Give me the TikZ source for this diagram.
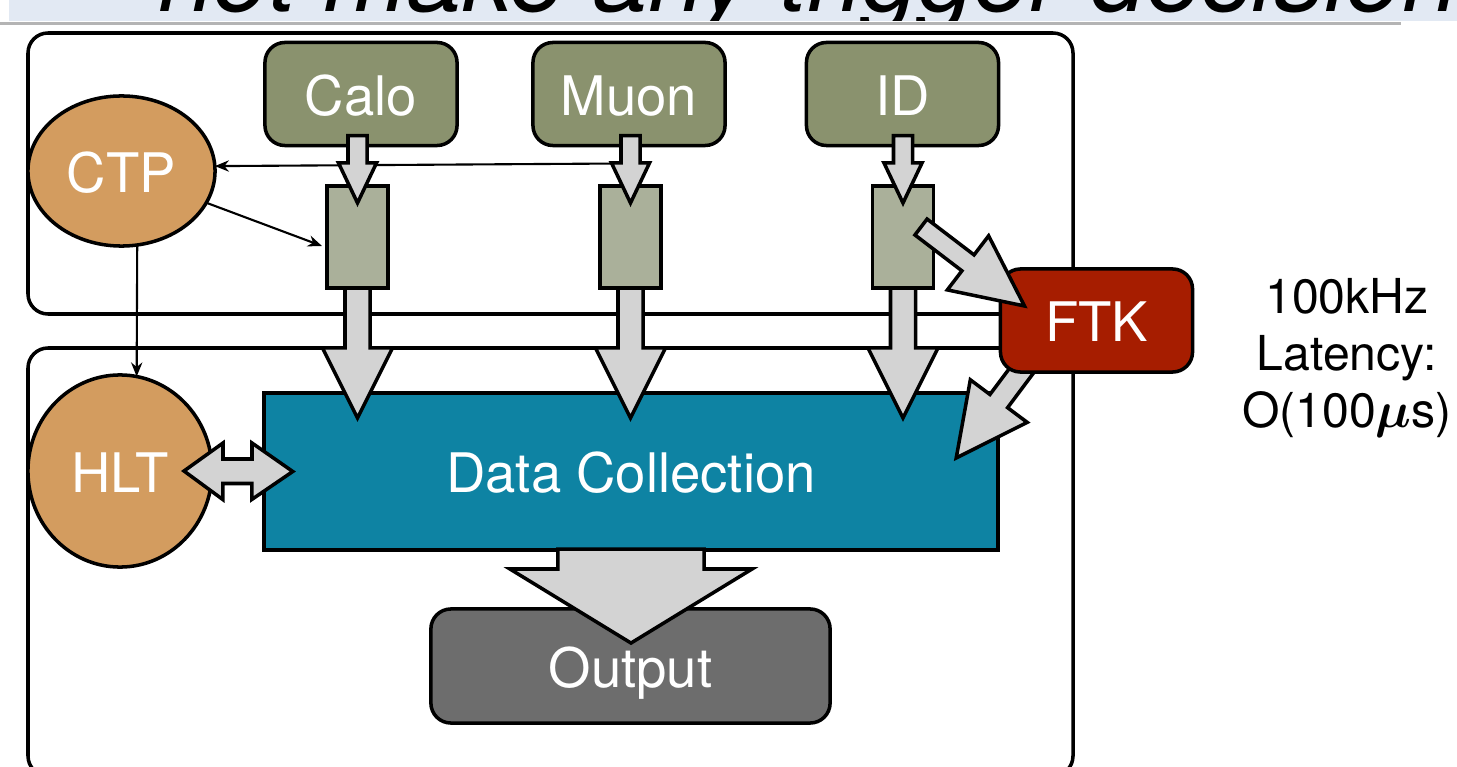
\documentclass[tikz,border=0pt]{standalone}
\usepackage{amsmath}
\usepackage{fontspec}
\setmainfont{TeX Gyre Heros}
\usetikzlibrary{shapes.geometric,arrows.meta,calc}
\definecolor{cBand}{HTML}{E2E9F3}
\definecolor{cLine}{HTML}{B4B4B4}
\definecolor{cSrc}{HTML}{8A926E}
\definecolor{cRd}{HTML}{AAB09A}
\definecolor{cArrow}{HTML}{D3D3D3}
\definecolor{cDC}{HTML}{0E83A3}
\definecolor{cOut}{HTML}{6D6D6D}
\definecolor{cFTK}{HTML}{A61D00}
\definecolor{cOval}{HTML}{D39C5F}
% #1 from, #2 to, #3 half shaft, #4 half head, #5 head length
\newcommand\fatarrow[5]{%
  \coordinate (fa-h) at ($(#2)!#5!(#1)$);
  \draw[fatstyle] ($(#1)!#3!90:(#2)$) -- ($(fa-h)!#3!90:(#2)$) -- ($(fa-h)!#4!90:(#2)$)
    -- (#2) -- ($(fa-h)!#4!-90:(#2)$) -- ($(fa-h)!#3!-90:(#2)$) -- ($(#1)!#3!-90:(#2)$) -- cycle;
}
\begin{document}
\begin{tikzpicture}[x=0.01cm,y=-0.01cm,
  every node/.style={inner sep=0pt, outer sep=0pt},
  lbl/.style={text=white, font=\fontsize{15.5}{18}\selectfont, text height=12pt, text depth=0pt},
  srcbox/.style={draw, line width=1pt, fill=cSrc, rounded corners=0.2cm, minimum width=1.92cm, minimum height=1.03cm, lbl},
  rdbox/.style={draw, line width=1pt, fill=cRd, minimum width=0.61cm, minimum height=1.02cm},
  oval/.style={draw, line width=1pt, fill=cOval, ellipse, lbl},
  frame/.style={draw, line width=1pt, rounded corners=0.2cm},
  thinarrow/.style={line width=0.6pt, -{Stealth[length=4pt,width=3.2pt]}},
  fatstyle/.style={draw, line width=1pt, fill=cArrow, line join=miter},
]
\useasboundingbox (0,0) rectangle (1457,767);

% slide title band
\fill[cBand] (9,0) rectangle (1457,21);
\begin{scope}
  \clip (9,0) rectangle (1457,21);
  \node[anchor=base west, font=\fontsize{28.5}{32}\selectfont\itshape] (title) at (158,12) {not make any trigger decisions};
\end{scope}
\draw[cLine, line width=0.8pt] (0,23.5) -- (1401,23.5);

% frames
\draw[frame] (28,33) rectangle (1073,314);
\draw[frame] (28,348) rectangle (1073,776);

% nodes
\node[oval, minimum width=1.87cm, minimum height=1.50cm] (ctp) at (121.5,171) {CTP};
\node[oval, minimum width=1.84cm, minimum height=1.92cm] (hlt) at (120,471) {HLT};
\node[srcbox] (calo) at (361,94) {Calo};
\node[srcbox] (muon) at (629,94) {Muon};
\node[srcbox] (id) at (902.5,94) {ID};
\node[rdbox] (rcalo) at (357.5,237) {};
\node[rdbox] (rmuon) at (630.5,237) {};
\node[rdbox] (rid) at (903,237) {};
\node[draw, line width=1pt, fill=cDC, minimum width=7.34cm, minimum height=1.57cm, lbl] (dc) at (631,471.5) {Data Collection};
\node[srcbox, fill=cOut, minimum width=3.99cm, minimum height=1.14cm] (out) at (630.5,666) {Output};

% thin connectors
\coordinate (tap) at (620,163.5);
\draw[thinarrow] (tap) -- (ctp.3);
\coordinate (ctpin) at ($(rcalo.west)+(-5,9)$);
\draw[thinarrow] (ctp) -- (ctpin);
\draw[thinarrow] (ctp.-78) -- (hlt.80);

% small arrows: detectors -> readout
\coordinate (s1) at ($(calo.south -| rcalo.north)+(0,-10)$);
\coordinate (e1) at ($(rcalo.north)+(0,17)$);
\fatarrow{s1}{e1}{0.095cm}{0.19cm}{0.40cm}
\coordinate (s2) at ($(muon.south -| rmuon.north)+(0,-10)$);
\coordinate (e2) at ($(rmuon.north)+(0,17)$);
\fatarrow{s2}{e2}{0.095cm}{0.19cm}{0.40cm}
\coordinate (s3) at ($(id.south -| rid.north)+(0,-10)$);
\coordinate (e3) at ($(rid.north)+(0,17)$);
\fatarrow{s3}{e3}{0.095cm}{0.19cm}{0.40cm}

% big arrows: readout -> data collection
\coordinate (b1) at ($(rcalo.south)+(0,130)$);
\fatarrow{rcalo.south}{b1}{0.125cm}{0.35cm}{0.70cm}
\coordinate (b2) at ($(rmuon.south)+(0,130)$);
\fatarrow{rmuon.south}{b2}{0.125cm}{0.35cm}{0.70cm}
\coordinate (b3) at ($(rid.south)+(0,130)$);
\fatarrow{rid.south}{b3}{0.125cm}{0.35cm}{0.70cm}

% data collection -> output
\coordinate (os) at ($(dc.south)+(0,-1)$);
\coordinate (oe) at ($(dc.south)+(0,93)$);
\fatarrow{os}{oe}{0.73cm}{1.21cm}{0.74cm}

% FTK -> data collection (tail hidden under FTK)
\node[srcbox, draw=none, fill=none] (ftkpos) at (1096.5,320.5) {};
\coordinate (fs) at ($(ftkpos.center)+(-67,39.5)$);
\coordinate (fe) at ($(dc.north east)+(-42,65)$);
\fatarrow{fs}{fe}{0.11cm}{0.355cm}{0.71cm}
\node[srcbox, fill=cFTK] (ftk) at (ftkpos) {FTK};

% ID readout -> FTK
\coordinate (is) at ($(rid.center)+(18,-10)$);
\coordinate (ie) at ($(ftk.north west)+(24,37)$);
\fatarrow{is}{ie}{0.10cm}{0.34cm}{0.71cm}

% HLT <-> data collection
\coordinate (hl) at ($(hlt.center)+(64,0)$);
\coordinate (hr) at ($(dc.west)+(29,0)$);
\draw[fatstyle] (hl) -- ++(39,-28) -- ++(0,16) -- ++(29,0) -- ++(0,-16) -- (hr)
  -- ++(-41,28) -- ++(0,-16) -- ++(-29,0) -- ++(0,16) -- cycle;

% rate / latency text
\node[font=\fontsize{13.7}{16.3}\selectfont, align=center] (lat) at (1347,358)
  {100kHz\\Latency:\\O(100$\boldsymbol{\mu}$s)};
\end{tikzpicture}
\end{document}
